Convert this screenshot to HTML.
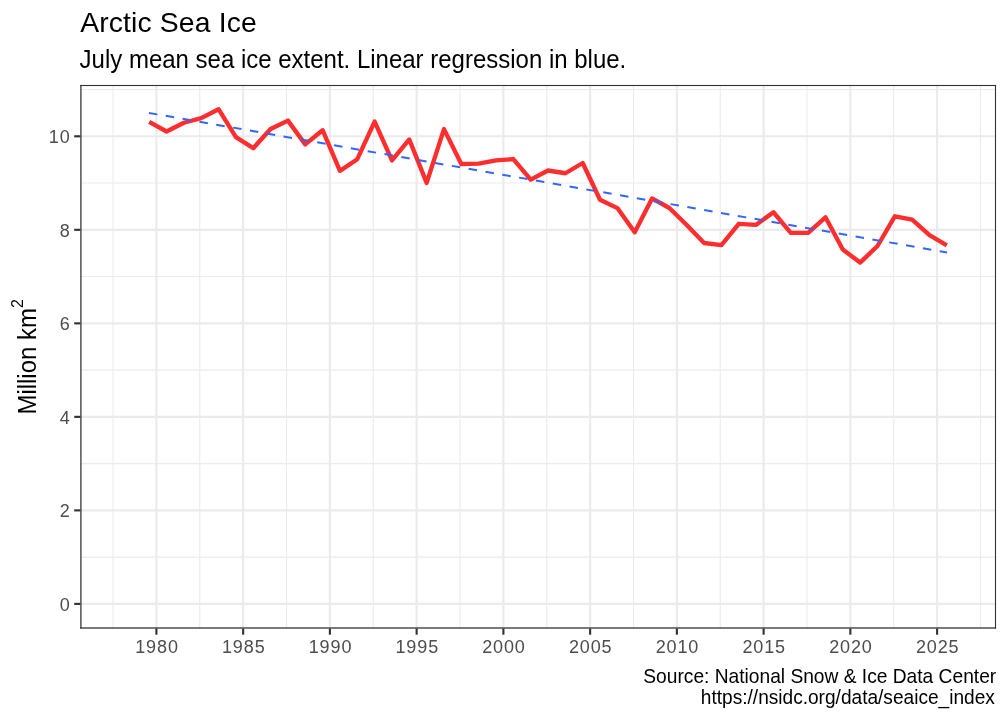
<!DOCTYPE html>
<html><head><meta charset="utf-8"><title>Arctic Sea Ice</title>
<style>html,body{margin:0;padding:0;background:#fff;width:1008px;height:720px;overflow:hidden;font-family:"Liberation Sans",sans-serif}</style>
</head><body>
<svg width="1008" height="720" viewBox="0 0 1008 720" style="position:absolute;left:0;top:0;will-change:transform">
<rect x="0" y="0" width="1008" height="720" fill="#fff"/>
<defs><clipPath id="pc"><rect x="80.5" y="85.0" width="915.5" height="543.5"/></clipPath></defs>
<g clip-path="url(#pc)">
<line x1="80.5" x2="996.0" y1="557.14" y2="557.14" stroke="#EBEBEB" stroke-width="1.07"/>
<line x1="80.5" x2="996.0" y1="463.62" y2="463.62" stroke="#EBEBEB" stroke-width="1.07"/>
<line x1="80.5" x2="996.0" y1="370.10" y2="370.10" stroke="#EBEBEB" stroke-width="1.07"/>
<line x1="80.5" x2="996.0" y1="276.58" y2="276.58" stroke="#EBEBEB" stroke-width="1.07"/>
<line x1="80.5" x2="996.0" y1="183.06" y2="183.06" stroke="#EBEBEB" stroke-width="1.07"/>
<line x1="80.5" x2="996.0" y1="89.54" y2="89.54" stroke="#EBEBEB" stroke-width="1.07"/>
<line y1="85.0" y2="628.5" x1="113.03" x2="113.03" stroke="#EBEBEB" stroke-width="1.07"/>
<line y1="85.0" y2="628.5" x1="199.77" x2="199.77" stroke="#EBEBEB" stroke-width="1.07"/>
<line y1="85.0" y2="628.5" x1="286.52" x2="286.52" stroke="#EBEBEB" stroke-width="1.07"/>
<line y1="85.0" y2="628.5" x1="373.26" x2="373.26" stroke="#EBEBEB" stroke-width="1.07"/>
<line y1="85.0" y2="628.5" x1="460.01" x2="460.01" stroke="#EBEBEB" stroke-width="1.07"/>
<line y1="85.0" y2="628.5" x1="546.75" x2="546.75" stroke="#EBEBEB" stroke-width="1.07"/>
<line y1="85.0" y2="628.5" x1="633.50" x2="633.50" stroke="#EBEBEB" stroke-width="1.07"/>
<line y1="85.0" y2="628.5" x1="720.24" x2="720.24" stroke="#EBEBEB" stroke-width="1.07"/>
<line y1="85.0" y2="628.5" x1="806.99" x2="806.99" stroke="#EBEBEB" stroke-width="1.07"/>
<line y1="85.0" y2="628.5" x1="893.73" x2="893.73" stroke="#EBEBEB" stroke-width="1.07"/>
<line y1="85.0" y2="628.5" x1="980.48" x2="980.48" stroke="#EBEBEB" stroke-width="1.07"/>
<line x1="80.5" x2="996.0" y1="603.90" y2="603.90" stroke="#EBEBEB" stroke-width="2.13"/>
<line x1="80.5" x2="996.0" y1="510.38" y2="510.38" stroke="#EBEBEB" stroke-width="2.13"/>
<line x1="80.5" x2="996.0" y1="416.86" y2="416.86" stroke="#EBEBEB" stroke-width="2.13"/>
<line x1="80.5" x2="996.0" y1="323.34" y2="323.34" stroke="#EBEBEB" stroke-width="2.13"/>
<line x1="80.5" x2="996.0" y1="229.82" y2="229.82" stroke="#EBEBEB" stroke-width="2.13"/>
<line x1="80.5" x2="996.0" y1="136.30" y2="136.30" stroke="#EBEBEB" stroke-width="2.13"/>
<line y1="85.0" y2="628.5" x1="156.40" x2="156.40" stroke="#EBEBEB" stroke-width="2.13"/>
<line y1="85.0" y2="628.5" x1="243.15" x2="243.15" stroke="#EBEBEB" stroke-width="2.13"/>
<line y1="85.0" y2="628.5" x1="329.89" x2="329.89" stroke="#EBEBEB" stroke-width="2.13"/>
<line y1="85.0" y2="628.5" x1="416.63" x2="416.63" stroke="#EBEBEB" stroke-width="2.13"/>
<line y1="85.0" y2="628.5" x1="503.38" x2="503.38" stroke="#EBEBEB" stroke-width="2.13"/>
<line y1="85.0" y2="628.5" x1="590.12" x2="590.12" stroke="#EBEBEB" stroke-width="2.13"/>
<line y1="85.0" y2="628.5" x1="676.87" x2="676.87" stroke="#EBEBEB" stroke-width="2.13"/>
<line y1="85.0" y2="628.5" x1="763.62" x2="763.62" stroke="#EBEBEB" stroke-width="2.13"/>
<line y1="85.0" y2="628.5" x1="850.36" x2="850.36" stroke="#EBEBEB" stroke-width="2.13"/>
<line y1="85.0" y2="628.5" x1="937.11" x2="937.11" stroke="#EBEBEB" stroke-width="2.13"/>
<polyline points="149.20,121.90 166.54,131.50 183.88,122.75 201.22,118.10 218.56,109.20 235.90,137.20 253.24,148.20 270.58,129.00 287.92,120.60 305.26,144.40 322.60,130.20 339.94,170.85 357.28,159.20 374.62,121.60 391.96,160.40 409.30,139.45 426.64,182.90 443.98,129.10 461.32,164.00 478.66,163.60 496.00,160.40 513.34,159.05 530.68,179.65 548.02,170.50 565.36,173.25 582.70,163.00 600.04,199.70 617.38,208.10 634.72,232.20 652.06,198.40 669.40,208.00 686.74,225.00 704.08,243.00 721.42,245.10 738.76,223.80 756.10,224.80 773.44,212.25 790.78,232.80 808.12,232.90 825.46,217.30 842.80,249.50 860.14,262.60 877.48,246.00 894.82,216.30 912.16,219.70 929.50,235.20 946.84,245.30" fill="none" stroke="#FF2E2E" stroke-width="4.35" stroke-linejoin="round" stroke-linecap="butt"/>
<line x1="148.94" y1="112.9" x2="947.1" y2="252.5" stroke="#3366FF" stroke-width="2.0" stroke-dasharray="8.54 8.54"/>
</g>
<rect x="80.27" y="84.95" width="1.27" height="543.7" fill="#333333"/>
<rect x="994.95" y="84.95" width="1.1" height="543.7" fill="#333333"/>
<rect x="80.27" y="84.95" width="915.78" height="1.1" fill="#333333"/>
<rect x="80.27" y="627.35" width="915.78" height="1.3" fill="#333333"/>
<line x1="74.2" x2="80.5" y1="603.90" y2="603.90" stroke="#333333" stroke-width="2.13"/>
<line x1="74.2" x2="80.5" y1="510.38" y2="510.38" stroke="#333333" stroke-width="2.13"/>
<line x1="74.2" x2="80.5" y1="416.86" y2="416.86" stroke="#333333" stroke-width="2.13"/>
<line x1="74.2" x2="80.5" y1="323.34" y2="323.34" stroke="#333333" stroke-width="2.13"/>
<line x1="74.2" x2="80.5" y1="229.82" y2="229.82" stroke="#333333" stroke-width="2.13"/>
<line x1="74.2" x2="80.5" y1="136.30" y2="136.30" stroke="#333333" stroke-width="2.13"/>
<line y1="628.5" y2="634.7" x1="156.40" x2="156.40" stroke="#333333" stroke-width="2.13"/>
<line y1="628.5" y2="634.7" x1="243.15" x2="243.15" stroke="#333333" stroke-width="2.13"/>
<line y1="628.5" y2="634.7" x1="329.89" x2="329.89" stroke="#333333" stroke-width="2.13"/>
<line y1="628.5" y2="634.7" x1="416.63" x2="416.63" stroke="#333333" stroke-width="2.13"/>
<line y1="628.5" y2="634.7" x1="503.38" x2="503.38" stroke="#333333" stroke-width="2.13"/>
<line y1="628.5" y2="634.7" x1="590.12" x2="590.12" stroke="#333333" stroke-width="2.13"/>
<line y1="628.5" y2="634.7" x1="676.87" x2="676.87" stroke="#333333" stroke-width="2.13"/>
<line y1="628.5" y2="634.7" x1="763.62" x2="763.62" stroke="#333333" stroke-width="2.13"/>
<line y1="628.5" y2="634.7" x1="850.36" x2="850.36" stroke="#333333" stroke-width="2.13"/>
<line y1="628.5" y2="634.7" x1="937.11" x2="937.11" stroke="#333333" stroke-width="2.13"/>
<text x="70.8" y="610.70" font-family="Liberation Sans, sans-serif" font-size="18" letter-spacing="1.0" fill="#4D4D4D" text-anchor="end">0</text>
<text x="70.8" y="517.18" font-family="Liberation Sans, sans-serif" font-size="18" letter-spacing="1.0" fill="#4D4D4D" text-anchor="end">2</text>
<text x="70.8" y="423.66" font-family="Liberation Sans, sans-serif" font-size="18" letter-spacing="1.0" fill="#4D4D4D" text-anchor="end">4</text>
<text x="70.8" y="330.14" font-family="Liberation Sans, sans-serif" font-size="18" letter-spacing="1.0" fill="#4D4D4D" text-anchor="end">6</text>
<text x="70.8" y="236.62" font-family="Liberation Sans, sans-serif" font-size="18" letter-spacing="1.0" fill="#4D4D4D" text-anchor="end">8</text>
<text x="70.8" y="143.10" font-family="Liberation Sans, sans-serif" font-size="18" letter-spacing="1.0" fill="#4D4D4D" text-anchor="end">10</text>
<text x="157.00" y="652.6" font-family="Liberation Sans, sans-serif" font-size="18" letter-spacing="0.9" fill="#4D4D4D" text-anchor="middle">1980</text>
<text x="243.75" y="652.6" font-family="Liberation Sans, sans-serif" font-size="18" letter-spacing="0.9" fill="#4D4D4D" text-anchor="middle">1985</text>
<text x="330.49" y="652.6" font-family="Liberation Sans, sans-serif" font-size="18" letter-spacing="0.9" fill="#4D4D4D" text-anchor="middle">1990</text>
<text x="417.24" y="652.6" font-family="Liberation Sans, sans-serif" font-size="18" letter-spacing="0.9" fill="#4D4D4D" text-anchor="middle">1995</text>
<text x="503.98" y="652.6" font-family="Liberation Sans, sans-serif" font-size="18" letter-spacing="0.9" fill="#4D4D4D" text-anchor="middle">2000</text>
<text x="590.73" y="652.6" font-family="Liberation Sans, sans-serif" font-size="18" letter-spacing="0.9" fill="#4D4D4D" text-anchor="middle">2005</text>
<text x="677.47" y="652.6" font-family="Liberation Sans, sans-serif" font-size="18" letter-spacing="0.9" fill="#4D4D4D" text-anchor="middle">2010</text>
<text x="764.22" y="652.6" font-family="Liberation Sans, sans-serif" font-size="18" letter-spacing="0.9" fill="#4D4D4D" text-anchor="middle">2015</text>
<text x="850.96" y="652.6" font-family="Liberation Sans, sans-serif" font-size="18" letter-spacing="0.9" fill="#4D4D4D" text-anchor="middle">2020</text>
<text x="937.71" y="652.6" font-family="Liberation Sans, sans-serif" font-size="18" letter-spacing="0.9" fill="#4D4D4D" text-anchor="middle">2025</text>
<text x="80.2" y="31.7" font-family="Liberation Sans, sans-serif" font-size="28.3" letter-spacing="0.15" fill="#000">Arctic Sea Ice</text>
<g transform="translate(79.6,67.6) scale(1,1.05)"><text x="0" y="0" font-family="Liberation Sans, sans-serif" font-size="24" fill="#000">July mean sea ice extent. Linear regression in blue.</text></g>
<g transform="translate(996.2,682.6) scale(1,1.06)"><text x="0" y="0" font-family="Liberation Sans, sans-serif" font-size="19.2" fill="#000" text-anchor="end">Source: National Snow &amp; Ice Data Center</text></g>
<g transform="translate(994.8,703.75) scale(1,1.06)"><text x="0" y="0" font-family="Liberation Sans, sans-serif" font-size="19.1" fill="#000" text-anchor="end">https://nsidc.org/data/seaice_index</text></g>
<g transform="translate(36.0,414.6) rotate(-90) scale(1,1.05)"><text x="0" y="0" font-family="Liberation Sans, sans-serif" font-size="24" fill="#000">Million km<tspan font-size="16" dy="-12.4" dx="0">2</tspan></text></g>
</svg>
</body></html>
